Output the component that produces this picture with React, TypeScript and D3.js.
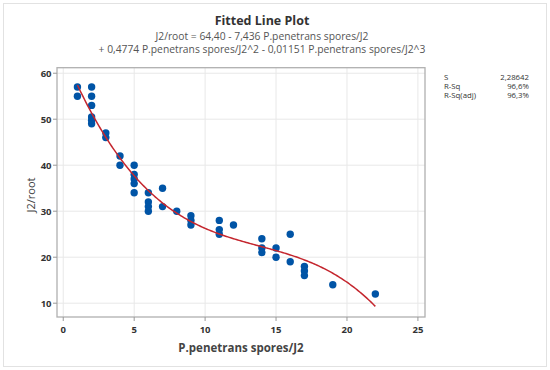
import React from "react";
import * as d3 from "d3";

const xs = [1, 1, 2, 2, 2, 2, 2, 2, 3, 3, 4, 4, 5, 5, 5, 5, 5, 6, 6, 6, 6, 7, 7, 8, 9, 9, 9, 11, 11, 11, 12, 14, 14, 14, 15, 15, 16, 16, 17, 17, 17, 19, 22];
const ys = [57, 55, 57, 55, 53, 50.5, 49.8, 49, 47, 46, 42, 40, 40, 38, 37, 36, 34, 34, 32, 31, 30, 35, 31, 30, 29, 28, 27, 28, 26, 25, 27, 24, 22, 21, 22, 20, 25, 19, 18, 17, 16, 14, 12];
// Fitted cubic coefficients as printed on the chart
const coefs = [64.40, -7.436, 0.4774, -0.01151];
const xTicks = [0, 5, 10, 15, 20, 25];
const yTicks = [10, 20, 30, 40, 50, 60];
const stats = [
  ["S", "2,28642"],
  ["R-Sq", "96,6%"],
  ["R-Sq(adj)", "96,3%"],
];

const W = 550, H = 370;
const L = 57, R = 425, T = 67.7, B = 317;
const FONT = "'Open Sans', 'Noto Sans', sans-serif";

export default function App() {
  const x = d3.scaleLinear().domain([-0.44, 25.5]).range([L, R]);
  const y = d3.scaleLinear().domain([7.0, 61.2]).range([B, T]);
  const fit = (v: number) => coefs.reduce((s, c, i) => s + c * Math.pow(v, i), 0);
  const curvePts = d3.range(1, 22.001, 0.1).map((v) => [v, fit(v)] as [number, number]);
  const line = d3.line<[number, number]>().x((d) => x(d[0])).y((d) => y(d[1]));

  return (
    <svg width={W} height={H} style={{ position: "absolute", left: 0, top: 0 }}>
      <rect x={0} y={0} width={W} height={H} fill="#fff" />
      <rect x={3.5} y={3.5} width={543} height={363} fill="none" stroke="#e2e2e2" />
      <text x={262} y={24.5} textAnchor="middle" fontFamily={FONT} fontWeight="bold" fontSize={12.5} fill="#333">Fitted Line Plot</text>
      <text x={262} y={40} textAnchor="middle" fontFamily={FONT} fontSize={10.3} fill="#555">J2/root = 64,40 - 7,436 P.penetrans spores/J2</text>
      <text x={262} y={53} textAnchor="middle" fontFamily={FONT} fontSize={10.3} fill="#555">+ 0,4774 P.penetrans spores/J2^2 - 0,01151 P.penetrans spores/J2^3</text>

      {xTicks.map((t) => (
        <line key={"gx" + t} x1={x(t)} x2={x(t)} y1={T} y2={B} stroke="#e8e8e8" />
      ))}
      {yTicks.map((t) => (
        <line key={"gy" + t} x1={L} x2={R} y1={y(t)} y2={y(t)} stroke="#e8e8e8" />
      ))}
      <rect x={L} y={T} width={R - L} height={B - T} fill="none" stroke="#b0b0b0" strokeWidth={1.3} />

      {xTicks.map((t) => (
        <g key={"tx" + t}>
          <line x1={x(t)} x2={x(t)} y1={B} y2={B + 4} stroke="#999" />
          <text x={x(t)} y={333} textAnchor="middle" fontFamily={FONT} fontWeight="bold" fontSize={9.5} fill="#333">{t}</text>
        </g>
      ))}
      {yTicks.map((t) => (
        <g key={"ty" + t}>
          <line x1={L - 4} x2={L} y1={y(t)} y2={y(t)} stroke="#999" />
          <text x={51.5} y={y(t) + 3.3} textAnchor="end" fontFamily={FONT} fontWeight="bold" fontSize={9.5} fill="#333">{t}</text>
        </g>
      ))}

      <text x={241} y={352} textAnchor="middle" fontFamily={FONT} fontWeight="bold" fontSize={11.5} fill="#444">P.penetrans spores/J2</text>
      <text transform={`translate(35,195) rotate(-90)`} textAnchor="middle" fontFamily={FONT} fontSize={11} fill="#444">J2/root</text>

      {xs.map((v, i) => (
        <circle key={"p" + i} cx={x(v)} cy={y(ys[i])} r={3.7} fill="#0054a6" />
      ))}
      <path d={line(curvePts) || ""} fill="none" stroke="#c4262e" strokeWidth={1.5} />

      {stats.map((s, i) => (
        <g key={"s" + i}>
          <text x={444} y={79.5 + i * 9} fontFamily={FONT} fontSize={7.8} fill="#333">{s[0]}</text>
          <text x={529} y={79.5 + i * 9} textAnchor="end" fontFamily={FONT} fontSize={7.8} fill="#333">{s[1]}</text>
        </g>
      ))}
    </svg>
  );
}
